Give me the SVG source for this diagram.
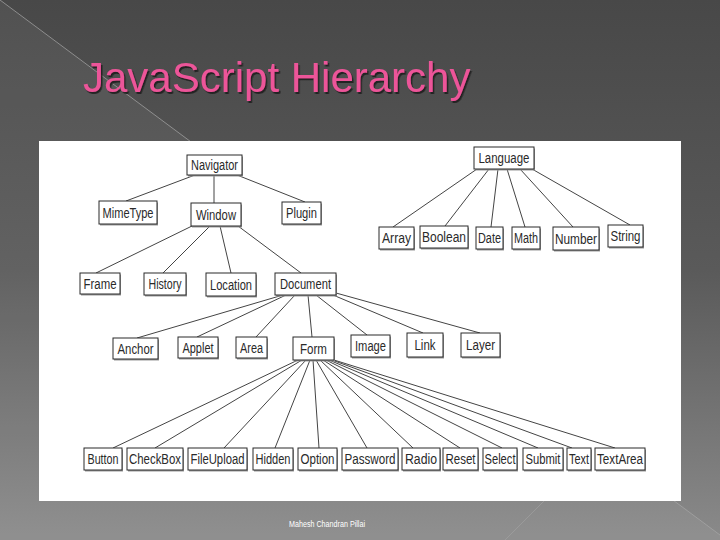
<svg xmlns="http://www.w3.org/2000/svg" width="720" height="540" viewBox="0 0 720 540">
<defs>
<linearGradient id="bg" x1="0" y1="0" x2="0" y2="1">
<stop offset="0" stop-color="#484848"/>
<stop offset="0.5" stop-color="#5a5a5a"/>
<stop offset="1" stop-color="#8a8a8a"/>
</linearGradient>
<filter id="tshadow" x="-5%" y="-20%" width="110%" height="150%">
<feDropShadow dx="1.5" dy="2" stdDeviation="0.6" flood-color="#1a1a1a" flood-opacity="0.9"/>
</filter>
<style>
.box rect.s{fill:#9a9a9a;stroke:none}
.box rect.b{fill:#ffffff;stroke:#2a2a2a;stroke-width:1}
.box text{font-family:"Liberation Sans",Arial,sans-serif;font-size:14px;fill:#2a2a2a;text-anchor:middle}
#edges line{stroke:#444444;stroke-width:1}
</style>
</defs>
<rect x="0" y="0" width="720" height="540" fill="url(#bg)"/>
<polygon points="0,0 720,535 720,540 0,540" fill="#ffffff" fill-opacity="0.05"/>
<line x1="0" y1="0" x2="720" y2="535" stroke="#a8a8a8" stroke-opacity="0.7" stroke-width="1"/>
<line x1="505" y1="540" x2="545" y2="500" stroke="#a8a8a8" stroke-opacity="0.5" stroke-width="1"/>
<text x="83" y="92" font-family="Liberation Sans,Arial,sans-serif" font-size="42" fill="#ec5599" filter="url(#tshadow)">JavaScript Hierarchy</text>
<rect x="39" y="141" width="642" height="360" fill="#ffffff"/>
<g id="edges">
<line x1="195" y1="175" x2="126" y2="201"/>
<line x1="214" y1="175" x2="214" y2="203"/>
<line x1="237" y1="175" x2="305" y2="202"/>
<line x1="192" y1="226" x2="96" y2="273"/>
<line x1="210" y1="226" x2="163" y2="273"/>
<line x1="220" y1="226" x2="231" y2="273"/>
<line x1="238" y1="226" x2="301" y2="273"/>
<line x1="477" y1="169" x2="393" y2="227"/>
<line x1="489" y1="169" x2="445" y2="226"/>
<line x1="498" y1="169" x2="491" y2="227"/>
<line x1="507" y1="169" x2="525" y2="227"/>
<line x1="520" y1="169" x2="573" y2="227"/>
<line x1="532" y1="169" x2="630" y2="225"/>
<line x1="283" y1="295" x2="137" y2="338"/>
<line x1="286" y1="295" x2="197" y2="337"/>
<line x1="295" y1="295" x2="256" y2="337"/>
<line x1="308" y1="295" x2="312" y2="337"/>
<line x1="316" y1="295" x2="367" y2="335"/>
<line x1="333" y1="295" x2="423" y2="333"/>
<line x1="336" y1="293" x2="480" y2="333"/>
<line x1="298" y1="360" x2="113" y2="448"/>
<line x1="302" y1="360" x2="155" y2="448"/>
<line x1="306" y1="360" x2="224" y2="448"/>
<line x1="310" y1="360" x2="275" y2="448"/>
<line x1="313" y1="360" x2="319" y2="448"/>
<line x1="316" y1="360" x2="367" y2="448"/>
<line x1="320" y1="360" x2="413" y2="448"/>
<line x1="323" y1="360" x2="460" y2="448"/>
<line x1="326" y1="360" x2="502" y2="448"/>
<line x1="329" y1="360" x2="538" y2="448"/>
<line x1="332" y1="360" x2="572" y2="448"/>
<line x1="334" y1="360" x2="615" y2="448"/>
</g>
<g id="navigator" class="box"><rect class="s" x="188" y="156.5" width="55" height="20"/><rect class="b" x="187" y="155" width="55" height="20"/><text x="214.5" y="170" textLength="47" lengthAdjust="spacingAndGlyphs">Navigator</text></g>
<g id="mimetype" class="box"><rect class="s" x="100" y="202.5" width="58" height="23"/><rect class="b" x="99" y="201" width="58" height="23"/><text x="128" y="217.5" textLength="51" lengthAdjust="spacingAndGlyphs">MimeType</text></g>
<g id="window" class="box"><rect class="s" x="192" y="204.5" width="50" height="23"/><rect class="b" x="191" y="203" width="50" height="23"/><text x="216" y="219.5" textLength="40" lengthAdjust="spacingAndGlyphs">Window</text></g>
<g id="plugin" class="box"><rect class="s" x="283" y="203.5" width="39" height="22"/><rect class="b" x="282" y="202" width="39" height="22"/><text x="301.5" y="218" textLength="31" lengthAdjust="spacingAndGlyphs">Plugin</text></g>
<g id="frame" class="box"><rect class="s" x="81" y="274.5" width="40" height="21"/><rect class="b" x="80" y="273" width="40" height="21"/><text x="100" y="288.5" textLength="33" lengthAdjust="spacingAndGlyphs">Frame</text></g>
<g id="history" class="box"><rect class="s" x="145" y="274.5" width="42" height="22"/><rect class="b" x="144" y="273" width="42" height="22"/><text x="165" y="289" textLength="33" lengthAdjust="spacingAndGlyphs">History</text></g>
<g id="location" class="box"><rect class="s" x="207" y="274.5" width="50" height="23"/><rect class="b" x="206" y="273" width="50" height="23"/><text x="231" y="289.5" textLength="42" lengthAdjust="spacingAndGlyphs">Location</text></g>
<g id="document" class="box"><rect class="s" x="276" y="274.5" width="61" height="22"/><rect class="b" x="275" y="273" width="61" height="22"/><text x="305.5" y="289" textLength="51" lengthAdjust="spacingAndGlyphs">Document</text></g>
<g id="language" class="box"><rect class="s" x="475" y="148.5" width="60" height="22"/><rect class="b" x="474" y="147" width="60" height="22"/><text x="504" y="163" textLength="51" lengthAdjust="spacingAndGlyphs">Language</text></g>
<g id="array" class="box"><rect class="s" x="380" y="228.5" width="35" height="22"/><rect class="b" x="379" y="227" width="35" height="22"/><text x="396.5" y="243" textLength="29" lengthAdjust="spacingAndGlyphs">Array</text></g>
<g id="boolean" class="box"><rect class="s" x="421" y="227.5" width="48" height="22"/><rect class="b" x="420" y="226" width="48" height="22"/><text x="444" y="242" textLength="44" lengthAdjust="spacingAndGlyphs">Boolean</text></g>
<g id="date" class="box"><rect class="s" x="477" y="228.5" width="27" height="22"/><rect class="b" x="476" y="227" width="27" height="22"/><text x="489.5" y="243" textLength="23" lengthAdjust="spacingAndGlyphs">Date</text></g>
<g id="math" class="box"><rect class="s" x="513" y="228.5" width="28" height="22"/><rect class="b" x="512" y="227" width="28" height="22"/><text x="526" y="243" textLength="24" lengthAdjust="spacingAndGlyphs">Math</text></g>
<g id="number" class="box"><rect class="s" x="554" y="228.5" width="46" height="23"/><rect class="b" x="553" y="227" width="46" height="23"/><text x="576" y="243.5" textLength="42" lengthAdjust="spacingAndGlyphs">Number</text></g>
<g id="string" class="box"><rect class="s" x="609" y="226.5" width="35" height="22"/><rect class="b" x="608" y="225" width="35" height="22"/><text x="625.5" y="241" textLength="30" lengthAdjust="spacingAndGlyphs">String</text></g>
<g id="anchor" class="box"><rect class="s" x="114" y="339.5" width="45" height="21"/><rect class="b" x="113" y="338" width="45" height="21"/><text x="135.5" y="353.5" textLength="36" lengthAdjust="spacingAndGlyphs">Anchor</text></g>
<g id="applet" class="box"><rect class="s" x="179" y="338.5" width="40" height="21"/><rect class="b" x="178" y="337" width="40" height="21"/><text x="198" y="352.5" textLength="31" lengthAdjust="spacingAndGlyphs">Applet</text></g>
<g id="area" class="box"><rect class="s" x="237" y="338.5" width="31" height="21"/><rect class="b" x="236" y="337" width="31" height="21"/><text x="251.5" y="352.5" textLength="23" lengthAdjust="spacingAndGlyphs">Area</text></g>
<g id="form" class="box"><rect class="s" x="294" y="338.5" width="41" height="23"/><rect class="b" x="293" y="337" width="41" height="23"/><text x="313.5" y="353.5" textLength="27" lengthAdjust="spacingAndGlyphs">Form</text></g>
<g id="image" class="box"><rect class="s" x="352" y="336.5" width="39" height="22"/><rect class="b" x="351" y="335" width="39" height="22"/><text x="370.5" y="351" textLength="31" lengthAdjust="spacingAndGlyphs">Image</text></g>
<g id="link" class="box"><rect class="s" x="408" y="334.5" width="36" height="24"/><rect class="b" x="407" y="333" width="36" height="24"/><text x="425" y="350" textLength="21" lengthAdjust="spacingAndGlyphs">Link</text></g>
<g id="layer" class="box"><rect class="s" x="462" y="334.5" width="39" height="24"/><rect class="b" x="461" y="333" width="39" height="24"/><text x="480.5" y="350" textLength="29" lengthAdjust="spacingAndGlyphs">Layer</text></g>
<g id="button" class="box"><rect class="s" x="85" y="449.5" width="38" height="22"/><rect class="b" x="84" y="448" width="38" height="22"/><text x="103" y="464" textLength="31" lengthAdjust="spacingAndGlyphs">Button</text></g>
<g id="checkbox" class="box"><rect class="s" x="128" y="449.5" width="56" height="22"/><rect class="b" x="127" y="448" width="56" height="22"/><text x="155" y="464" textLength="52" lengthAdjust="spacingAndGlyphs">CheckBox</text></g>
<g id="fileupload" class="box"><rect class="s" x="189" y="449.5" width="59" height="22"/><rect class="b" x="188" y="448" width="59" height="22"/><text x="217.5" y="464" textLength="54" lengthAdjust="spacingAndGlyphs">FileUpload</text></g>
<g id="hidden" class="box"><rect class="s" x="254" y="449.5" width="40" height="22"/><rect class="b" x="253" y="448" width="40" height="22"/><text x="273" y="464" textLength="35" lengthAdjust="spacingAndGlyphs">Hidden</text></g>
<g id="option" class="box"><rect class="s" x="299" y="449.5" width="39" height="22"/><rect class="b" x="298" y="448" width="39" height="22"/><text x="317.5" y="464" textLength="34" lengthAdjust="spacingAndGlyphs">Option</text></g>
<g id="password" class="box"><rect class="s" x="343" y="449.5" width="56" height="22"/><rect class="b" x="342" y="448" width="56" height="22"/><text x="370" y="464" textLength="51" lengthAdjust="spacingAndGlyphs">Password</text></g>
<g id="radio" class="box"><rect class="s" x="403" y="449.5" width="38" height="22"/><rect class="b" x="402" y="448" width="38" height="22"/><text x="421" y="464" textLength="32" lengthAdjust="spacingAndGlyphs">Radio</text></g>
<g id="reset" class="box"><rect class="s" x="444" y="449.5" width="35" height="22"/><rect class="b" x="443" y="448" width="35" height="22"/><text x="460.5" y="464" textLength="30" lengthAdjust="spacingAndGlyphs">Reset</text></g>
<g id="select" class="box"><rect class="s" x="484" y="449.5" width="34" height="22"/><rect class="b" x="483" y="448" width="34" height="22"/><text x="500" y="464" textLength="31" lengthAdjust="spacingAndGlyphs">Select</text></g>
<g id="submit" class="box"><rect class="s" x="524" y="449.5" width="40" height="22"/><rect class="b" x="523" y="448" width="40" height="22"/><text x="543" y="464" textLength="35" lengthAdjust="spacingAndGlyphs">Submit</text></g>
<g id="text" class="box"><rect class="s" x="568" y="449.5" width="24" height="22"/><rect class="b" x="567" y="448" width="24" height="22"/><text x="579" y="464" textLength="20" lengthAdjust="spacingAndGlyphs">Text</text></g>
<g id="textarea" class="box"><rect class="s" x="596" y="449.5" width="50" height="22"/><rect class="b" x="595" y="448" width="50" height="22"/><text x="620" y="464" textLength="46" lengthAdjust="spacingAndGlyphs">TextArea</text></g>
<text x="289" y="527" font-family="Liberation Sans,Arial,sans-serif" font-size="8.5" fill="#ffffff" textLength="76" lengthAdjust="spacingAndGlyphs">Mahesh Chandran Pillai</text>
</svg>
